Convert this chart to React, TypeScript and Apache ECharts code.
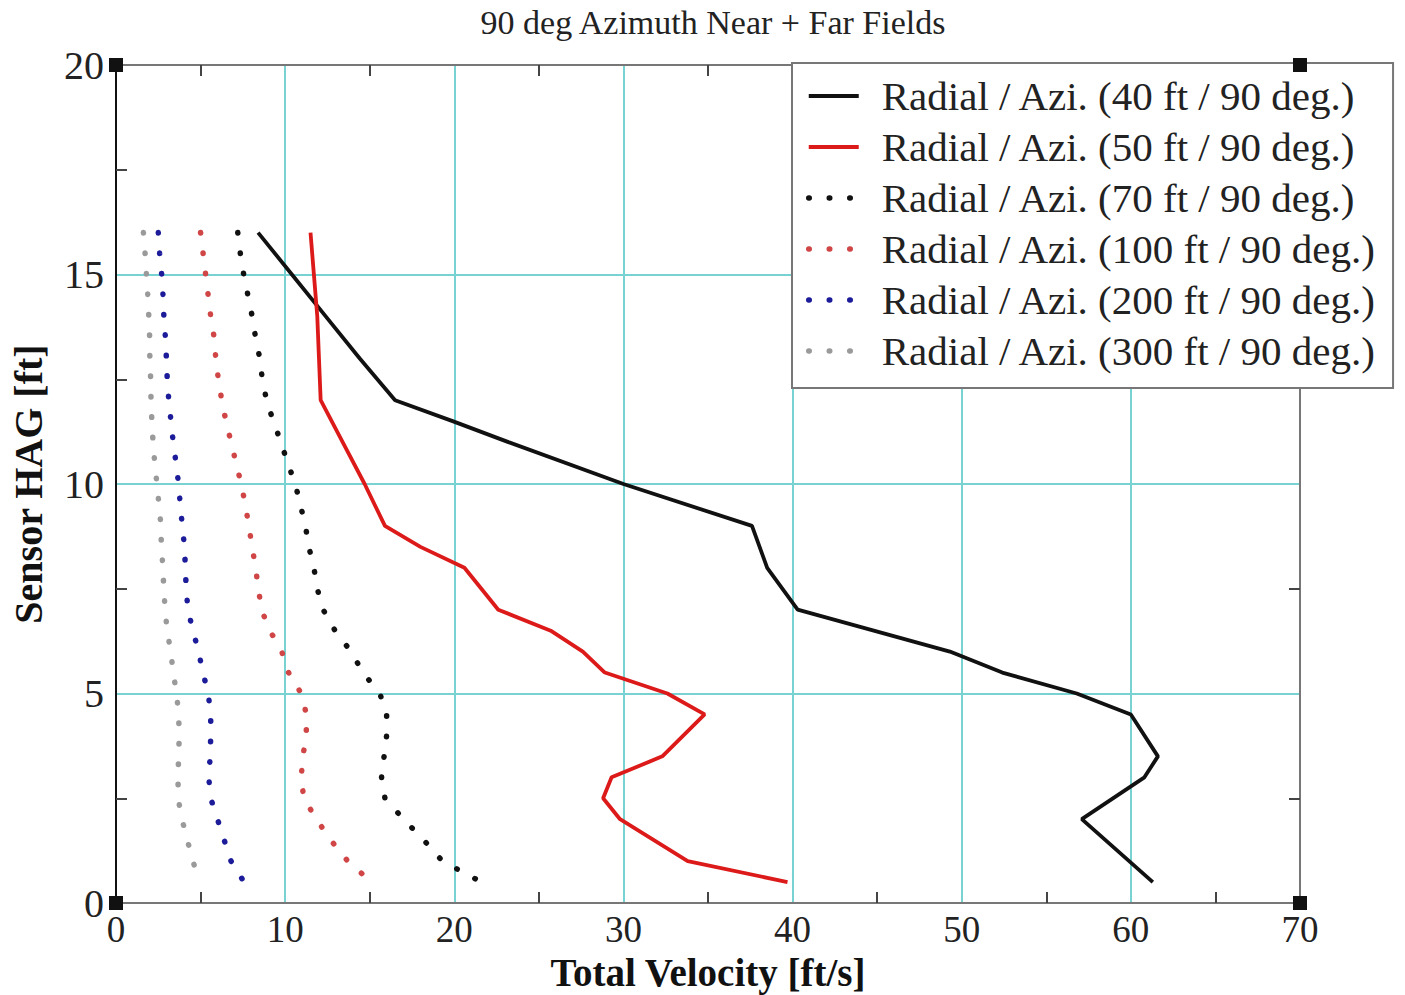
import React, { useEffect, useRef } from "react";
import * as echarts from "echarts";

// ---------- data ----------
const TITLE = "90 deg Azimuth Near + Far Fields";
const X_NAME = "Total Velocity [ft/s]";
const Y_NAME = "Sensor HAG [ft]";

const SERIES_NAMES = [
  "Radial / Azi. (40 ft / 90 deg.)",
  "Radial / Azi. (50 ft / 90 deg.)",
  "Radial / Azi. (70 ft / 90 deg.)",
  "Radial / Azi. (100 ft / 90 deg.)",
  "Radial / Azi. (200 ft / 90 deg.)",
  "Radial / Azi. (300 ft / 90 deg.)",
];

// solid lines
const H40 = [16, 15, 14, 13, 12, 11.5, 11, 10, 9, 8, 7, 6.5, 6, 5.5, 5, 4.5, 3.5, 3, 2, 0.5];
const V40 = [8.4, 10.4, 12.4, 14.4, 16.5, 19.9, 23.2, 30.0, 37.6, 38.5, 40.3, 44.8, 49.3, 52.4, 56.8, 60.0, 61.6, 60.8, 57.1, 61.3];

const H50 = [16, 15, 14, 13, 12, 11, 10, 9, 8.5, 8, 7, 6.5, 6, 5.5, 5, 4.5, 3.5, 3, 2.5, 2, 1, 0.5];
const V50 = [11.5, 11.7, 11.9, 12.0, 12.1, 13.4, 14.7, 15.9, 18.0, 20.6, 22.6, 25.7, 27.6, 28.9, 32.6, 34.8, 32.3, 29.3, 28.8, 29.8, 33.8, 39.7];

// dotted lines share heights
const H_FAR = [16, 15.5, 15, 14.5, 14, 13.5, 13, 12.5, 12, 11.5, 11, 10.5, 10, 9.5, 9, 8.5, 8, 7.5, 7, 6.5, 6, 5.5, 5, 4.5, 4, 3.5, 3, 2.5, 2, 1.5, 1, 0.5];
const V70 = [7.2, 7.35, 7.55, 7.8, 8.05, 8.25, 8.5, 8.65, 8.9, 9.3, 9.75, 10.15, 10.6, 10.9, 11.2, 11.4, 11.7, 11.9, 12.25, 12.95, 13.9, 14.6, 15.6, 16.0, 16.0, 15.85, 15.7, 15.9, 17.0, 18.2, 19.3, 21.6];
const V100 = [5.0, 5.15, 5.3, 5.45, 5.6, 5.8, 5.9, 6.05, 6.25, 6.5, 6.8, 7.1, 7.4, 7.65, 7.85, 8.05, 8.25, 8.42, 8.6, 9.1, 9.8, 10.2, 10.95, 11.26, 11.25, 11.05, 10.95, 11.1, 11.85, 12.7, 13.7, 15.1];
const V200 = [2.5, 2.58, 2.7, 2.78, 2.83, 2.92, 2.98, 3.03, 3.12, 3.25, 3.38, 3.55, 3.7, 3.8, 3.92, 4.05, 4.1, 4.15, 4.25, 4.55, 4.88, 5.14, 5.45, 5.6, 5.6, 5.57, 5.48, 5.6, 6.0, 6.4, 6.8, 7.57];
const V300 = [1.62, 1.72, 1.8, 1.88, 1.94, 1.99, 2.0, 2.05, 2.07, 2.12, 2.19, 2.29, 2.42, 2.54, 2.66, 2.68, 2.78, 2.82, 2.91, 3.02, 3.24, 3.38, 3.58, 3.7, 3.74, 3.7, 3.67, 3.67, 3.9, 4.22, 4.54, 4.97];

const X_MIN = 0, X_MAX = 70, X_STEP = 10;
const Y_MIN = 0, Y_MAX = 20, Y_STEP = 5;

// ---------- layout / style ----------
const W = 1405, H = 995;
const GRID = { left: 116, top: 65, right: 105, bottom: 92 };
const FONT = "'Liberation Serif', 'Times New Roman', serif";
const GRID_COLOR = "#78d2d2";

const pair = (xs: number[], ys: number[]) => xs.map((x, i) => [x, ys[i]]);

export default function App() {
  const ref = useRef<HTMLDivElement>(null);
  useEffect(() => {
    if (!ref.current) return;
    const chart = echarts.init(ref.current, undefined, { renderer: "svg" });

    const solid = (name: string, xs: number[], ys: number[], color: string) => ({
      name,
      type: "line",
      data: pair(xs, ys),
      symbol: "none",
      xAxisIndex: 0,
      yAxisIndex: 0,
      lineStyle: { color, width: 3.8, type: "solid" },
      itemStyle: { color },
      z: 5,
    });
    const dotted = (name: string, xs: number[], ys: number[], color: string) => ({
      name,
      type: "line",
      data: pair(xs, ys),
      symbol: "none",
      xAxisIndex: 0,
      yAxisIndex: 0,
      lineStyle: { color, width: 5.5, type: [0.5, 20], cap: "round" },
      itemStyle: { color },
      z: 4,
    });

    const plotW = W - GRID.left - GRID.right;
    const plotH = H - GRID.top - GRID.bottom;
    const corners = [
      [GRID.left, GRID.top],
      [GRID.left + plotW, GRID.top],
      [GRID.left, GRID.top + plotH],
      [GRID.left + plotW, GRID.top + plotH],
    ];

    const baseAxis = {
      type: "value",
      axisLine: { show: true, onZero: false, lineStyle: { color: "#777", width: 2 } },
      axisTick: { show: false, inside: true },
      minorTick: { show: true, splitNumber: 2, length: 11, lineStyle: { color: "#444", width: 2 } },
    };

    chart.setOption({
      animation: false,
      backgroundColor: "#fff",
      title: {
        text: TITLE,
        left: GRID.left + plotW / 2,
        textAlign: "center",
        top: 0,
        textStyle: { fontFamily: FONT, fontSize: 34, fontWeight: "normal", color: "#222" },
      },
      grid: { ...GRID, containLabel: false, outerBoundsMode: "none" },
      xAxis: [
        {
          ...baseAxis,
          position: "bottom",
          min: X_MIN,
          max: X_MAX,
          interval: X_STEP,
          name: X_NAME,
          nameLocation: "middle",
          nameGap: 50,
          nameMoveOverlap: false,
          nameTextStyle: { fontFamily: FONT, fontSize: 39, lineHeight: 38, fontWeight: "bold", color: "#111" },
          axisLabel: { fontFamily: FONT, fontSize: 37, lineHeight: 36, color: "#222", margin: 8 },
          splitLine: { show: true, lineStyle: { color: GRID_COLOR, width: 2 } },
        },
        {
          ...baseAxis,
          position: "top",
          min: X_MIN,
          max: X_MAX,
          interval: X_STEP,
          axisLabel: { show: false },
          splitLine: { show: false },
        },
      ],
      yAxis: [
        {
          ...baseAxis,
          position: "left",
          min: Y_MIN,
          max: Y_MAX,
          interval: Y_STEP,
          axisLine: { show: true, onZero: false, lineStyle: { color: "#111", width: 2 } },
          name: Y_NAME,
          nameLocation: "middle",
          nameGap: 68,
          nameMoveOverlap: false,
          nameTextStyle: { fontFamily: FONT, fontSize: 40, fontWeight: "bold", color: "#111" },
          axisLabel: { fontFamily: FONT, fontSize: 40, color: "#222", margin: 12 },
          splitLine: { show: true, lineStyle: { color: GRID_COLOR, width: 2 } },
        },
        {
          ...baseAxis,
          position: "right",
          min: Y_MIN,
          max: Y_MAX,
          interval: Y_STEP,
          axisLabel: { show: false },
          splitLine: { show: false },
        },
      ],
      legend: {
        orient: "vertical",
        left: 792,
        top: 63,
        padding: [10, 16, 14, 14],
        itemGap: 5,
        itemWidth: 50,
        itemHeight: 14,
        borderColor: "#777",
        borderWidth: 2,
        borderRadius: 0,
        backgroundColor: "#fff",
        z: 10,
        itemStyle: { opacity: 0 },
        lineStyle: { width: "inherit" },
        textStyle: {
          fontFamily: FONT,
          fontSize: 41,
          color: "#222",
          lineHeight: 46,
          padding: [0, 0, 0, 18],
        },
        data: SERIES_NAMES,
      },
      graphic: corners.map(([cx, cy]) => ({
        type: "rect",
        shape: { x: cx - 7, y: cy - 7, width: 14, height: 14 },
        style: { fill: "#111" },
        z: 20,
      })),
      series: [
        solid(SERIES_NAMES[0], V40, H40, "#111111"),
        solid(SERIES_NAMES[1], V50, H50, "#dd1a1a"),
        dotted(SERIES_NAMES[2], V70, H_FAR, "#111111"),
        dotted(SERIES_NAMES[3], V100, H_FAR, "#d04545"),
        dotted(SERIES_NAMES[4], V200, H_FAR, "#1c1c9a"),
        dotted(SERIES_NAMES[5], V300, H_FAR, "#9a9a9a"),
      ],
    });
    return () => chart.dispose();
  }, []);
  return (
    <div
      ref={ref}
      style={{ position: "absolute", left: 0, top: 0, width: W, height: H, background: "#fff" }}
    />
  );
}
